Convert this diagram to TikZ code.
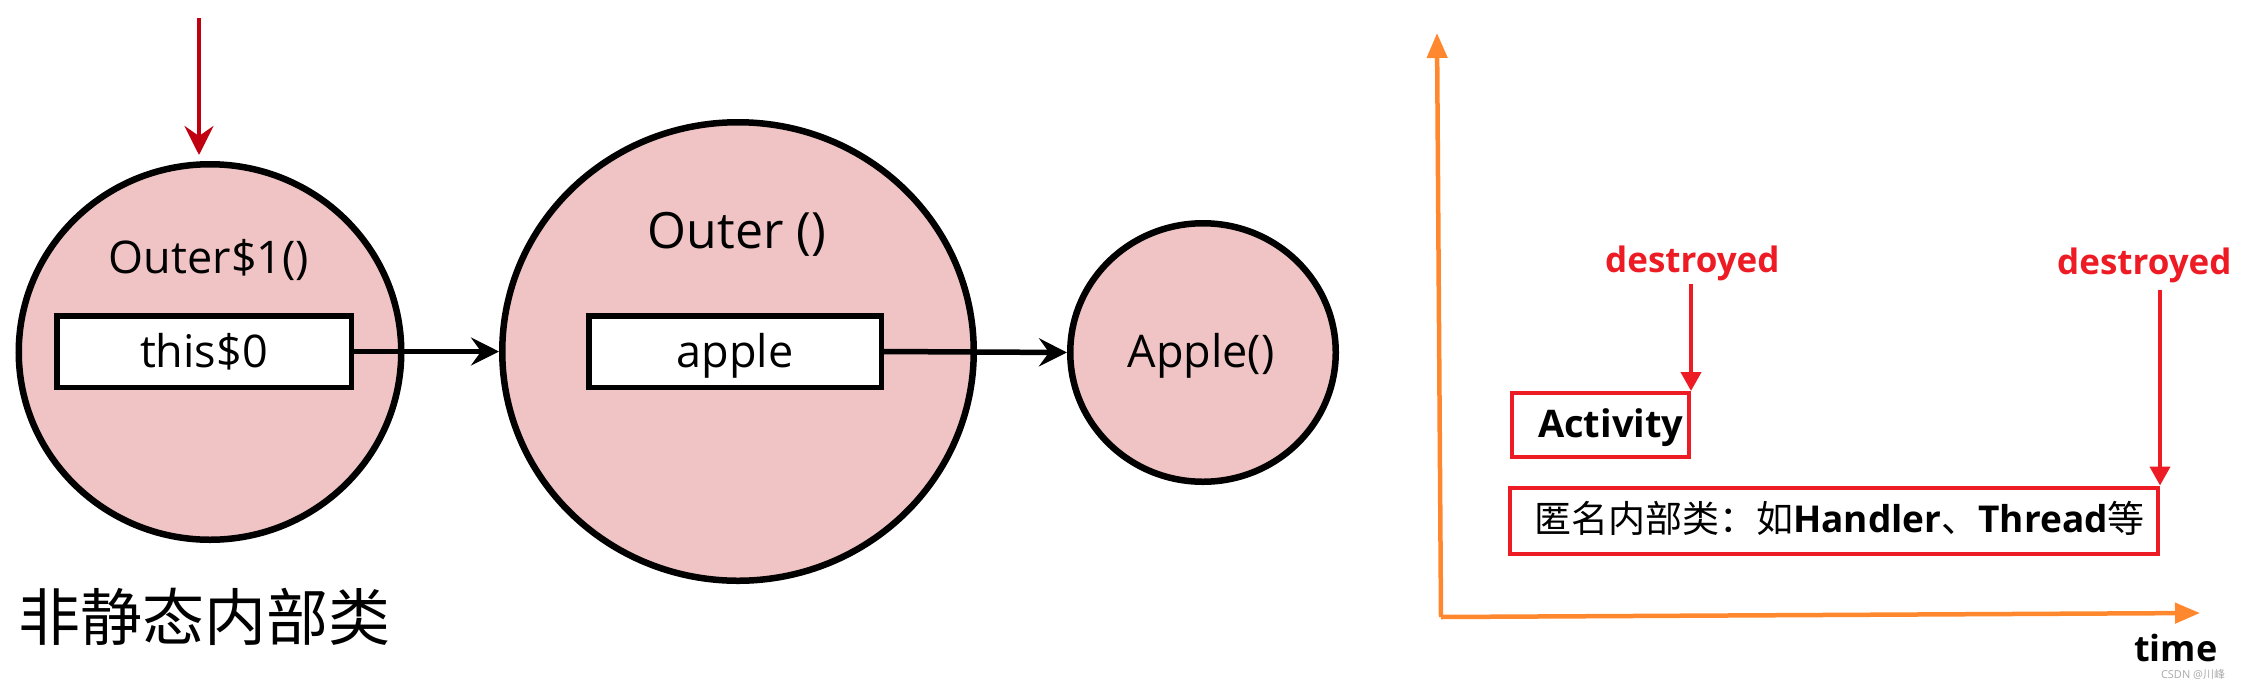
\documentclass[tikz,border=0pt]{standalone}
\usepackage{fontspec}
\setmainfont{Open Sans}
\newfontfamily\cjk{Noto Sans CJK SC}
\usetikzlibrary{shapes.geometric,arrows.meta}
\definecolor{pinkfill}{RGB}{240,196,196}
\definecolor{darkred}{RGB}{192,0,16}
\definecolor{myred}{RGB}{237,28,36}
\definecolor{myorange}{RGB}{255,135,45}
\definecolor{wmgray}{RGB}{170,170,170}
\begin{document}
\begin{tikzpicture}[x=1pt,y=-1pt,
  obj/.style={ellipse, draw=black, line width=6.5pt, fill=pinkfill, inner sep=0pt},
  field/.style={draw=black, line width=5.5pt, fill=white, minimum width=294.5pt, minimum height=71.5pt,
    inner sep=0pt, text height=32pt, text depth=0pt, font=\fontsize{45}{50}\selectfont},
  lbl/.style={anchor=base, inner sep=0pt, font=\fontsize{45}{50}\selectfont},
  ref/.style={draw=black, line width=5.5pt, -{Stealth[length=28pt,width=28pt,inset=10pt]}},
  axis/.style={myorange, line width=4.5pt, -{Triangle[length=25pt,width=20pt]}},
  redbox/.style={draw=myred, line width=4pt, inner sep=0pt},
  redarrow/.style={myred, line width=4pt, -{Triangle[length=19pt,width=20pt]}},
  boldlbl/.style={anchor=base west, inner sep=0pt, font=\bfseries\fontsize{38}{40}\selectfont},
  destr/.style={anchor=base west, inner sep=0pt, text=myred, font=\bfseries\fontsize{35}{40}\selectfont}
]
\useasboundingbox (0,0) rectangle (2243,689);

% ---------- left part ----------
\node[obj, minimum width=382.5pt, minimum height=375.5pt] (c1) at (210,352) {};
\node[obj, minimum width=471.5pt, minimum height=458.5pt] (c2) at (738,351.5) {};
\node[obj, minimum width=265.5pt, minimum height=258.5pt] (c3) at (1203,352.5) {};

\node[lbl] (l1) at (209,273) {Outer\$1()};
\node[lbl, font=\fontsize{50}{55}\selectfont] (l2) at (737,248) {Outer ()};
\node[lbl] (l3) at (1201,367) {Apple()};

\node[field] (ths) at (204,351.5) {this\$0};
\node[field, minimum width=292.5pt] (apl) at (735,351.5) {apple};

\draw[ref] (ths.east) -- (c2.west);
\draw[ref] (apl.east) -- (c3.west);

\coordinate (r0) at (199,18);
\draw[darkred, line width=4pt, -{Stealth[length=29pt,width=29pt,inset=10pt]}, shorten >=6pt]
  (r0) -- (r0 |- c1.north);

\node[anchor=base west, inner sep=0pt, font=\cjk\fontsize{62}{64}\selectfont] (title) at (18,640) {非静态内部类};

% ---------- right part ----------
\coordinate (o) at (1441,617);
\coordinate (yt) at (1437,33);
\coordinate (xt) at (2200,613);
\draw[axis] (o) -- (yt);
\draw[axis] (o) -- (xt);

\node[redbox, minimum width=177pt, minimum height=64pt] (act) at (1600.5,425) {};
\node[boldlbl] (actt) at (1538,437) {Activity};

\node[redbox, minimum width=648pt, minimum height=66.5pt] (anon) at (1834,520.75) {};
\node[anchor=base west, inner sep=0pt, font=\fontsize{37}{40}\selectfont] (anont) at (1534,532)
  {{\cjk 匿名内部类：如}{\bfseries Handler}{\cjk 、}{\bfseries Thread}{\cjk 等}};

\node[destr] (d1) at (1605,272) {destroyed};
\node[destr] (d2) at (2057,274.6) {destroyed};

\draw[redarrow, shorten <=3pt] (d1.south -| act.north east) -- (act.north east);
\draw[redarrow, shorten <=7pt] (d2.south -| anon.north east) -- (anon.north east);

\node[anchor=base west, inner sep=0pt, font=\bfseries\fontsize{36}{40}\selectfont] (time) at (2134,661) {time};
\node[inner sep=0pt, text=wmgray, font=\fontsize{11}{12}\selectfont] (wm) at (2193,674) {CSDN @{\cjk 川峰}};
\end{tikzpicture}
\end{document}
